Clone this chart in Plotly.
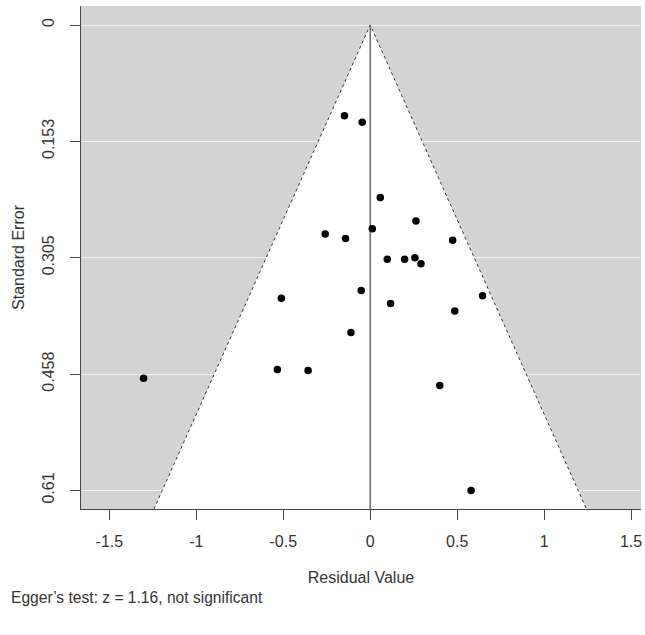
import numpy as np
import plotly.graph_objects as go

# Residual values and standard errors
residuals = [-0.148, -0.046, 0.058, 0.263, 0.012, -0.259, -0.142, 0.474,
             0.098, 0.198, 0.257, 0.292, -0.052, -0.511, 0.646, 0.117,
             0.486, -0.111, -1.303, -0.534, -0.357, 0.400, 0.580]
std_errors = [0.119, 0.1275, 0.226, 0.257, 0.267, 0.274, 0.280, 0.282,
              0.307, 0.307, 0.305, 0.313, 0.348, 0.358, 0.355, 0.365,
              0.375, 0.403, 0.463, 0.4515, 0.453, 0.4725, 0.610]

y_tick_vals = [0.0, 0.1525, 0.305, 0.4575, 0.61]
y_tick_text = ["0", "0.153", "0.305", "0.458", "0.61"]
x_tick_vals = [-1.5, -1, -0.5, 0, 0.5, 1, 1.5]
x_tick_text = ["-1.5", "-1", "-0.5", "0", "0.5", "1", "1.5"]

x_range = [-1.663, 1.557]
y_range = [0.6344, -0.0249]   # reversed: SE 0 at top
z_crit = 1.96
egger_note = "Egger\u2019s test: z = 1.16, not significant"

se_bottom = y_range[0]
funnel_x = [-z_crit * se_bottom, 0.0, z_crit * se_bottom]
funnel_y = [se_bottom, 0.0, se_bottom]

FONT = "Liberation Sans, Arial, sans-serif"
TXT = "#333333"

fig = go.Figure()

# white funnel region
fig.add_trace(go.Scatter(
    x=funnel_x + [funnel_x[0]], y=funnel_y + [funnel_y[0]],
    mode="lines", fill="toself", fillcolor="white",
    line=dict(width=0), hoverinfo="skip", showlegend=False))

# dotted funnel boundaries
fig.add_trace(go.Scatter(
    x=funnel_x, y=funnel_y, mode="lines",
    line=dict(color="#333333", width=1, dash="dot"),
    hoverinfo="skip", showlegend=False))

# vertical reference line at 0
fig.add_trace(go.Scatter(
    x=[0, 0], y=[0, se_bottom], mode="lines",
    line=dict(color="#555555", width=1.3),
    hoverinfo="skip", showlegend=False))

# studies
fig.add_trace(go.Scatter(
    x=residuals, y=std_errors, mode="markers",
    marker=dict(color="black", size=7.5),
    showlegend=False))

fig.update_layout(
    width=645, height=635,
    margin=dict(l=81, r=4, t=6, b=126),
    paper_bgcolor="white",
    plot_bgcolor="#D3D3D3",
    font=dict(family=FONT, size=16, color=TXT),
    xaxis=dict(
        range=x_range, tickvals=x_tick_vals, ticktext=x_tick_text,
        automargin=False,
        showgrid=False, zeroline=False,
        showline=True, linecolor="#444444", linewidth=1,
        ticks="outside", ticklen=10, tickcolor="#444444",
        ticklabelstandoff=8,
        title=dict(text="Residual Value", standoff=22,
                   font=dict(size=16, color=TXT)),
    ),
    yaxis=dict(
        range=y_range, tickvals=y_tick_vals, ticktext=y_tick_text,
        automargin=False,
        tickangle=-90,
        showgrid=True, gridcolor="#F4F4F4", gridwidth=1.2, zeroline=False,
        showline=True, linecolor="#444444", linewidth=1,
        ticks="outside", ticklen=10, tickcolor="#444444",
        ticklabelstandoff=10,
        title=dict(text="Standard Error", standoff=10,
                   font=dict(size=16, color=TXT)),
    ),
    annotations=[dict(
        text=egger_note, xref="paper", yref="paper",
        x=-0.1285, y=-0.175, xanchor="left", yanchor="middle",
        showarrow=False, font=dict(size=15.6, color=TXT, family=FONT))],
)

fig.write_html("out.html",
               config={"displayModeBar": False},
               post_script="document.body.style.margin='0px';"
                           "document.body.style.overflow='hidden';")
